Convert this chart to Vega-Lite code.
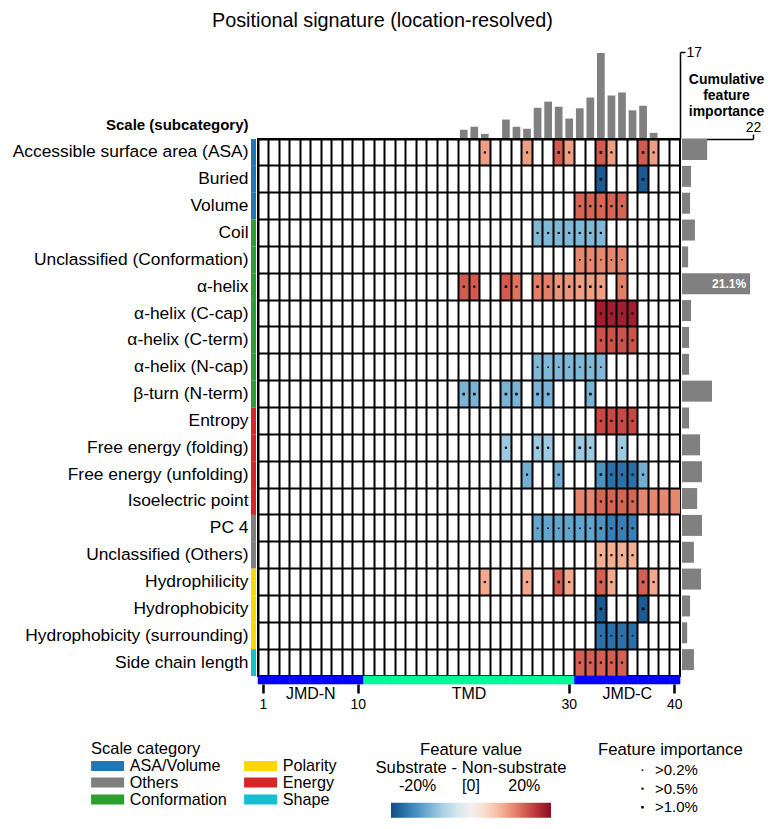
{
  "$schema": "https://vega.github.io/schema/vega-lite/v6.json",
  "padding": {"left": 12, "top": 11, "right": 5, "bottom": 5},
  "title": {"text": "Positional signature (location-resolved)", "fontSize": 19.8, "fontWeight": "normal", "anchor": "middle", "frame": "bounds", "offset": 14, "dx": -5.5},
  "config": {
    "font": "Liberation Sans",
    "view": {"stroke": null},
    "axis": {"labelColor": "black", "titleColor": "black", "domainColor": "black", "tickColor": "black"},
    "legend": {"labelColor": "black", "titleColor": "black", "padding": 0, "titleFontWeight": "normal"},
    "title": {"color": "black"}
  },
  "datasets": {
    "scales": [
      {"scale": "Accessible surface area (ASA)", "category": "ASA/Volume", "importance": 7.8},
      {"scale": "Buried", "category": "ASA/Volume", "importance": 2.8},
      {"scale": "Volume", "category": "ASA/Volume", "importance": 2.5},
      {"scale": "Coil", "category": "Conformation", "importance": 4.0},
      {"scale": "Unclassified (Conformation)", "category": "Conformation", "importance": 1.9},
      {"scale": "α-helix", "category": "Conformation", "importance": 21.1},
      {"scale": "α-helix (C-cap)", "category": "Conformation", "importance": 2.8},
      {"scale": "α-helix (C-term)", "category": "Conformation", "importance": 2.2},
      {"scale": "α-helix (N-cap)", "category": "Conformation", "importance": 2.2},
      {"scale": "β-turn (N-term)", "category": "Conformation", "importance": 9.3},
      {"scale": "Entropy", "category": "Energy", "importance": 2.2},
      {"scale": "Free energy (folding)", "category": "Energy", "importance": 5.6},
      {"scale": "Free energy (unfolding)", "category": "Energy", "importance": 6.2},
      {"scale": "Isoelectric point", "category": "Energy", "importance": 4.7},
      {"scale": "PC 4", "category": "Others", "importance": 6.2},
      {"scale": "Unclassified (Others)", "category": "Others", "importance": 3.7},
      {"scale": "Hydrophilicity", "category": "Polarity", "importance": 5.9},
      {"scale": "Hydrophobicity", "category": "Polarity", "importance": 2.5},
      {"scale": "Hydrophobicity (surrounding)", "category": "Polarity", "importance": 1.6},
      {"scale": "Side chain length", "category": "Shape", "importance": 3.7}
    ],
    "positions": [
      {"pos": 1, "region": "JMD-N", "importance": 0}, {"pos": 2, "region": "JMD-N", "importance": 0},
      {"pos": 3, "region": "JMD-N", "importance": 0}, {"pos": 4, "region": "JMD-N", "importance": 0},
      {"pos": 5, "region": "JMD-N", "importance": 0}, {"pos": 6, "region": "JMD-N", "importance": 0},
      {"pos": 7, "region": "JMD-N", "importance": 0}, {"pos": 8, "region": "JMD-N", "importance": 0},
      {"pos": 9, "region": "JMD-N", "importance": 0}, {"pos": 10, "region": "JMD-N", "importance": 0},
      {"pos": 11, "region": "TMD", "importance": 0}, {"pos": 12, "region": "TMD", "importance": 0},
      {"pos": 13, "region": "TMD", "importance": 0}, {"pos": 14, "region": "TMD", "importance": 0},
      {"pos": 15, "region": "TMD", "importance": 0}, {"pos": 16, "region": "TMD", "importance": 0},
      {"pos": 17, "region": "TMD", "importance": 0}, {"pos": 18, "region": "TMD", "importance": 0},
      {"pos": 19, "region": "TMD", "importance": 0}, {"pos": 20, "region": "TMD", "importance": 1.8},
      {"pos": 21, "region": "TMD", "importance": 2.4}, {"pos": 22, "region": "TMD", "importance": 1.0},
      {"pos": 23, "region": "TMD", "importance": 0}, {"pos": 24, "region": "TMD", "importance": 3.8},
      {"pos": 25, "region": "TMD", "importance": 2.4}, {"pos": 26, "region": "TMD", "importance": 2.0},
      {"pos": 27, "region": "TMD", "importance": 6.1}, {"pos": 28, "region": "TMD", "importance": 7.3},
      {"pos": 29, "region": "TMD", "importance": 6.3}, {"pos": 30, "region": "TMD", "importance": 4.0},
      {"pos": 31, "region": "JMD-C", "importance": 6.0}, {"pos": 32, "region": "JMD-C", "importance": 8.1},
      {"pos": 33, "region": "JMD-C", "importance": 16.8}, {"pos": 34, "region": "JMD-C", "importance": 8.5},
      {"pos": 35, "region": "JMD-C", "importance": 9.1}, {"pos": 36, "region": "JMD-C", "importance": 5.6},
      {"pos": 37, "region": "JMD-C", "importance": 6.5}, {"pos": 38, "region": "JMD-C", "importance": 1.2},
      {"pos": 39, "region": "JMD-C", "importance": 0}, {"pos": 40, "region": "JMD-C", "importance": 0}
    ],
    "cells": [
      {"scale": "Accessible surface area (ASA)", "pos": 22, "value": 13.7, "importance": ">0.5%"},
      {"scale": "Accessible surface area (ASA)", "pos": 26, "value": 13.7, "importance": ">0.5%"},
      {"scale": "Accessible surface area (ASA)", "pos": 29, "value": 20.4, "importance": ">1.0%"},
      {"scale": "Accessible surface area (ASA)", "pos": 30, "value": 13.7, "importance": ">0.5%"},
      {"scale": "Accessible surface area (ASA)", "pos": 33, "value": 20.4, "importance": ">1.0%"},
      {"scale": "Accessible surface area (ASA)", "pos": 34, "value": 13.7, "importance": ">0.5%"},
      {"scale": "Accessible surface area (ASA)", "pos": 37, "value": 20.4, "importance": ">1.0%"},
      {"scale": "Accessible surface area (ASA)", "pos": 38, "value": 13.7, "importance": ">0.5%"},
      {"scale": "Buried", "pos": 33, "value": -28, "importance": ">1.0%"},
      {"scale": "Buried", "pos": 37, "value": -28, "importance": ">1.0%"},
      {"scale": "Volume", "pos": 31, "value": 19.5, "importance": ">0.5%"},
      {"scale": "Volume", "pos": 32, "value": 19.5, "importance": ">0.5%"},
      {"scale": "Volume", "pos": 33, "value": 19.5, "importance": ">0.5%"},
      {"scale": "Volume", "pos": 34, "value": 19.5, "importance": ">0.5%"},
      {"scale": "Volume", "pos": 35, "value": 19.5, "importance": ">0.5%"},
      {"scale": "Coil", "pos": 27, "value": -14.7, "importance": ">0.5%"},
      {"scale": "Coil", "pos": 28, "value": -14.7, "importance": ">0.5%"},
      {"scale": "Coil", "pos": 29, "value": -14.7, "importance": ">0.5%"},
      {"scale": "Coil", "pos": 30, "value": -14.7, "importance": ">0.5%"},
      {"scale": "Coil", "pos": 31, "value": -14.7, "importance": ">0.5%"},
      {"scale": "Coil", "pos": 32, "value": -14.7, "importance": ">0.5%"},
      {"scale": "Coil", "pos": 33, "value": -14.7, "importance": ">0.5%"},
      {"scale": "Unclassified (Conformation)", "pos": 31, "value": 16, "importance": ">0.2%"},
      {"scale": "Unclassified (Conformation)", "pos": 32, "value": 16, "importance": ">0.2%"},
      {"scale": "Unclassified (Conformation)", "pos": 33, "value": 16, "importance": ">0.2%"},
      {"scale": "Unclassified (Conformation)", "pos": 34, "value": 16, "importance": ">0.2%"},
      {"scale": "Unclassified (Conformation)", "pos": 35, "value": 16, "importance": ">0.2%"},
      {"scale": "α-helix", "pos": 20, "value": 20.5, "importance": ">0.5%"},
      {"scale": "α-helix", "pos": 21, "value": 20.5, "importance": ">0.5%"},
      {"scale": "α-helix", "pos": 24, "value": 20.5, "importance": ">1.0%"},
      {"scale": "α-helix", "pos": 25, "value": 18, "importance": ">0.5%"},
      {"scale": "α-helix", "pos": 27, "value": 17, "importance": ">1.0%"},
      {"scale": "α-helix", "pos": 28, "value": 17, "importance": ">1.0%"},
      {"scale": "α-helix", "pos": 29, "value": 14.5, "importance": ">1.0%"},
      {"scale": "α-helix", "pos": 30, "value": 14.5, "importance": ">1.0%"},
      {"scale": "α-helix", "pos": 31, "value": 13.5, "importance": ">1.0%"},
      {"scale": "α-helix", "pos": 32, "value": 13.5, "importance": ">1.0%"},
      {"scale": "α-helix", "pos": 33, "value": 13.5, "importance": ">1.0%"},
      {"scale": "α-helix", "pos": 35, "value": 17, "importance": ">0.5%"},
      {"scale": "α-helix (C-cap)", "pos": 33, "value": 27.5, "importance": ">0.5%"},
      {"scale": "α-helix (C-cap)", "pos": 34, "value": 27.5, "importance": ">0.5%"},
      {"scale": "α-helix (C-cap)", "pos": 35, "value": 27.5, "importance": ">0.5%"},
      {"scale": "α-helix (C-cap)", "pos": 36, "value": 27.5, "importance": ">0.5%"},
      {"scale": "α-helix (C-term)", "pos": 33, "value": 21.3, "importance": ">0.5%"},
      {"scale": "α-helix (C-term)", "pos": 34, "value": 21.3, "importance": ">0.5%"},
      {"scale": "α-helix (C-term)", "pos": 35, "value": 21.3, "importance": ">0.5%"},
      {"scale": "α-helix (C-term)", "pos": 36, "value": 21.3, "importance": ">0.5%"},
      {"scale": "α-helix (N-cap)", "pos": 27, "value": -14.7, "importance": ">0.2%"},
      {"scale": "α-helix (N-cap)", "pos": 28, "value": -14.7, "importance": ">0.2%"},
      {"scale": "α-helix (N-cap)", "pos": 29, "value": -14.7, "importance": ">0.2%"},
      {"scale": "α-helix (N-cap)", "pos": 30, "value": -14.7, "importance": ">0.2%"},
      {"scale": "α-helix (N-cap)", "pos": 31, "value": -14.7, "importance": ">0.2%"},
      {"scale": "α-helix (N-cap)", "pos": 32, "value": -14.7, "importance": ">0.2%"},
      {"scale": "α-helix (N-cap)", "pos": 33, "value": -14.7, "importance": ">0.2%"},
      {"scale": "β-turn (N-term)", "pos": 20, "value": -15.4, "importance": ">1.0%"},
      {"scale": "β-turn (N-term)", "pos": 21, "value": -15.4, "importance": ">1.0%"},
      {"scale": "β-turn (N-term)", "pos": 24, "value": -15.4, "importance": ">1.0%"},
      {"scale": "β-turn (N-term)", "pos": 25, "value": -15.4, "importance": ">1.0%"},
      {"scale": "β-turn (N-term)", "pos": 27, "value": -15.4, "importance": ">1.0%"},
      {"scale": "β-turn (N-term)", "pos": 28, "value": -15.4, "importance": ">1.0%"},
      {"scale": "β-turn (N-term)", "pos": 32, "value": -15.4, "importance": ">1.0%"},
      {"scale": "Entropy", "pos": 33, "value": 22.3, "importance": ">0.5%"},
      {"scale": "Entropy", "pos": 34, "value": 22.3, "importance": ">0.5%"},
      {"scale": "Entropy", "pos": 35, "value": 22.3, "importance": ">0.5%"},
      {"scale": "Entropy", "pos": 36, "value": 22.3, "importance": ">0.5%"},
      {"scale": "Free energy (folding)", "pos": 24, "value": -12, "importance": ">0.5%"},
      {"scale": "Free energy (folding)", "pos": 27, "value": -12, "importance": ">1.0%"},
      {"scale": "Free energy (folding)", "pos": 28, "value": -12, "importance": ">0.5%"},
      {"scale": "Free energy (folding)", "pos": 31, "value": -12, "importance": ">1.0%"},
      {"scale": "Free energy (folding)", "pos": 32, "value": -12, "importance": ">0.5%"},
      {"scale": "Free energy (folding)", "pos": 35, "value": -12, "importance": ">0.5%"},
      {"scale": "Free energy (unfolding)", "pos": 26, "value": -16, "importance": ">0.5%"},
      {"scale": "Free energy (unfolding)", "pos": 29, "value": -16, "importance": ">0.5%"},
      {"scale": "Free energy (unfolding)", "pos": 33, "value": -20.2, "importance": ">1.0%"},
      {"scale": "Free energy (unfolding)", "pos": 34, "value": -25, "importance": ">0.5%"},
      {"scale": "Free energy (unfolding)", "pos": 35, "value": -25, "importance": ">0.5%"},
      {"scale": "Free energy (unfolding)", "pos": 36, "value": -25, "importance": ">0.5%"},
      {"scale": "Free energy (unfolding)", "pos": 37, "value": -16, "importance": ">0.5%"},
      {"scale": "Isoelectric point", "pos": 31, "value": 16, "importance": null},
      {"scale": "Isoelectric point", "pos": 32, "value": 16, "importance": null},
      {"scale": "Isoelectric point", "pos": 33, "value": 19.5, "importance": ">0.5%"},
      {"scale": "Isoelectric point", "pos": 34, "value": 19.5, "importance": ">0.5%"},
      {"scale": "Isoelectric point", "pos": 35, "value": 19.5, "importance": ">0.5%"},
      {"scale": "Isoelectric point", "pos": 36, "value": 19.5, "importance": ">0.5%"},
      {"scale": "Isoelectric point", "pos": 37, "value": 16, "importance": null},
      {"scale": "Isoelectric point", "pos": 38, "value": 16, "importance": null},
      {"scale": "Isoelectric point", "pos": 39, "value": 16, "importance": null},
      {"scale": "Isoelectric point", "pos": 40, "value": 16, "importance": null},
      {"scale": "PC 4", "pos": 27, "value": -17.5, "importance": ">0.2%"},
      {"scale": "PC 4", "pos": 28, "value": -17.5, "importance": ">0.2%"},
      {"scale": "PC 4", "pos": 29, "value": -17.5, "importance": ">0.2%"},
      {"scale": "PC 4", "pos": 30, "value": -17.5, "importance": ">0.2%"},
      {"scale": "PC 4", "pos": 31, "value": -17.5, "importance": ">0.2%"},
      {"scale": "PC 4", "pos": 32, "value": -17.5, "importance": ">0.2%"},
      {"scale": "PC 4", "pos": 33, "value": -20, "importance": ">1.0%"},
      {"scale": "PC 4", "pos": 34, "value": -23, "importance": ">0.5%"},
      {"scale": "PC 4", "pos": 35, "value": -23, "importance": ">0.5%"},
      {"scale": "PC 4", "pos": 36, "value": -23, "importance": ">0.5%"},
      {"scale": "Unclassified (Others)", "pos": 33, "value": 12, "importance": ">0.5%"},
      {"scale": "Unclassified (Others)", "pos": 34, "value": 12, "importance": ">0.5%"},
      {"scale": "Unclassified (Others)", "pos": 35, "value": 12, "importance": ">0.5%"},
      {"scale": "Unclassified (Others)", "pos": 36, "value": 12, "importance": ">0.5%"},
      {"scale": "Hydrophilicity", "pos": 22, "value": 12.5, "importance": ">0.5%"},
      {"scale": "Hydrophilicity", "pos": 26, "value": 12.5, "importance": ">0.5%"},
      {"scale": "Hydrophilicity", "pos": 29, "value": 20, "importance": ">1.0%"},
      {"scale": "Hydrophilicity", "pos": 30, "value": 12.5, "importance": ">0.5%"},
      {"scale": "Hydrophilicity", "pos": 33, "value": 20, "importance": ">1.0%"},
      {"scale": "Hydrophilicity", "pos": 34, "value": 12.5, "importance": ">0.5%"},
      {"scale": "Hydrophilicity", "pos": 37, "value": 20, "importance": ">1.0%"},
      {"scale": "Hydrophilicity", "pos": 38, "value": 12.5, "importance": ">0.5%"},
      {"scale": "Hydrophobicity", "pos": 33, "value": -28, "importance": ">1.0%"},
      {"scale": "Hydrophobicity", "pos": 37, "value": -28, "importance": ">1.0%"},
      {"scale": "Hydrophobicity (surrounding)", "pos": 33, "value": -25, "importance": ">0.2%"},
      {"scale": "Hydrophobicity (surrounding)", "pos": 34, "value": -25, "importance": ">0.2%"},
      {"scale": "Hydrophobicity (surrounding)", "pos": 35, "value": -25, "importance": ">0.2%"},
      {"scale": "Hydrophobicity (surrounding)", "pos": 36, "value": -25, "importance": ">0.2%"},
      {"scale": "Side chain length", "pos": 31, "value": 20, "importance": ">0.5%"},
      {"scale": "Side chain length", "pos": 32, "value": 20, "importance": ">0.5%"},
      {"scale": "Side chain length", "pos": 33, "value": 20, "importance": ">0.5%"},
      {"scale": "Side chain length", "pos": 34, "value": 20, "importance": ">0.5%"},
      {"scale": "Side chain length", "pos": 35, "value": 20, "importance": ">0.5%"}
    ]
  },
  "columns": 3,
  "bounds": "flush",
  "align": "each",
  "spacing": {"row": 0, "column": 2},
  "resolve": {"scale": {"color": "independent"}},
  "concat": [
    {
      "width": 5, "height": 87,
      "data": {"values": []},
      "mark": {"type": "rect", "opacity": 0}
    },
    {
      "width": 422, "height": 87,
      "data": {"name": "positions"},
      "mark": {"type": "bar", "color": "#808080"},
      "encoding": {
        "x": {"field": "pos", "type": "ordinal",
              "scale": {"domain": [1,2,3,4,5,6,7,8,9,10,11,12,13,14,15,16,17,18,19,20,21,22,23,24,25,26,27,28,29,30,31,32,33,34,35,36,37,38,39,40], "paddingInner": 0.27, "paddingOuter": 0.135},
              "axis": null},
        "y": {"field": "importance", "type": "quantitative",
              "scale": {"domain": [0, 17], "nice": false},
              "axis": {"orient": "right", "values": [17], "title": null, "grid": false, "domainWidth": 1.5, "tickSize": 5, "tickWidth": 1.5, "labelFontSize": 14, "labelPadding": 1, "labelFlush": false}}
      }
    },
    {
      "width": 71, "height": 87,
      "data": {"values": []},
      "mark": {"type": "rect", "opacity": 0}
    },
    {
      "width": 5, "height": 537,
      "data": {"name": "scales"},
      "mark": {"type": "rect"},
      "encoding": {
        "y": {"field": "scale", "type": "nominal",
              "scale": {"domain": ["Accessible surface area (ASA)", "Buried", "Volume", "Coil", "Unclassified (Conformation)", "α-helix", "α-helix (C-cap)", "α-helix (C-term)", "α-helix (N-cap)", "β-turn (N-term)", "Entropy", "Free energy (folding)", "Free energy (unfolding)", "Isoelectric point", "PC 4", "Unclassified (Others)", "Hydrophilicity", "Hydrophobicity", "Hydrophobicity (surrounding)", "Side chain length"], "paddingInner": 0, "paddingOuter": 0},
              "axis": {"orient": "left", "title": "Scale (subcategory)", "titleAngle": 0, "titleAlign": "right", "titleBaseline": "alphabetic", "titleX": -3, "titleY": -10, "titleFontSize": 15, "titleFontWeight": "bold", "labelFontSize": 17.4, "labelPadding": 3, "labelLimit": 400, "ticks": false, "domain": false, "grid": false}},
        "color": {"field": "category", "type": "nominal",
                  "scale": {"domain": ["ASA/Volume", "Others", "Conformation", "Polarity", "Energy", "Shape"], "range": ["#1f77b4", "#7f7f7f", "#2ca02c", "#ffd700", "#d62728", "#17becf"]},
                  "legend": {"orient": "none", "legendX": -160, "legendY": 602, "title": "Scale category", "titleFontSize": 16.5, "titlePadding": 0, "labelFontSize": 16.2, "columns": 2, "columnPadding": 17, "rowPadding": 0, "symbolType": "M-3.3,-1H3.3V1H-3.3Z", "symbolSize": 100, "symbolStrokeWidth": 0, "symbolOffset": 8.5, "labelOffset": 14}}
      }
    },
    {
      "width": 422, "height": 537,
      "view": {"stroke": "black", "strokeWidth": 2},
      "data": {"name": "cells"},
      "encoding": {
        "x": {"field": "pos", "type": "ordinal",
              "scale": {"domain": [1,2,3,4,5,6,7,8,9,10,11,12,13,14,15,16,17,18,19,20,21,22,23,24,25,26,27,28,29,30,31,32,33,34,35,36,37,38,39,40], "paddingInner": 0, "paddingOuter": 0},
              "axis": {"orient": "top", "title": null, "labels": false, "ticks": false, "domain": false, "grid": true, "gridColor": "black", "gridWidth": 2, "gridOpacity": 1, "bandPosition": 0, "zindex": 1}},
        "y": {"field": "scale", "type": "nominal",
              "scale": {"domain": ["Accessible surface area (ASA)", "Buried", "Volume", "Coil", "Unclassified (Conformation)", "α-helix", "α-helix (C-cap)", "α-helix (C-term)", "α-helix (N-cap)", "β-turn (N-term)", "Entropy", "Free energy (folding)", "Free energy (unfolding)", "Isoelectric point", "PC 4", "Unclassified (Others)", "Hydrophilicity", "Hydrophobicity", "Hydrophobicity (surrounding)", "Side chain length"], "paddingInner": 0, "paddingOuter": 0},
              "axis": {"orient": "left", "title": null, "labels": false, "ticks": false, "domain": false, "grid": true, "gridColor": "black", "gridWidth": 2, "gridOpacity": 1, "bandPosition": 0, "zindex": 1}}
      },
      "layer": [
        {
          "mark": {"type": "rect"},
          "encoding": {
            "color": {"field": "value", "type": "quantitative",
                      "scale": {"scheme": "redblue", "reverse": true, "domain": [-30, 30]},
                      "legend": {"orient": "none", "legendX": 117, "legendY": 603, "direction": "horizontal", "gradientLength": 160, "gradientThickness": 15, "gradientStrokeWidth": 0, "title": ["Feature value", "Substrate - Non-substrate"], "titleFontSize": 16.7, "titleLimit": 400, "titleAnchor": "middle", "titleAlign": "center", "titleLineHeight": 18, "titlePadding": 26, "values": [-20, 0, 20], "labelExpr": "datum.value == 0 ? '[0]' : datum.value + '%'", "labelFontSize": 16, "labelOffset": -40, "labelOverlap": false}}
          }
        },
        {
          "transform": [{"filter": "datum.importance != null"}],
          "mark": {"type": "point", "shape": "square", "filled": true, "color": "black", "opacity": 1},
          "encoding": {
            "size": {"field": "importance", "type": "ordinal",
                     "scale": {"domain": [">0.2%", ">0.5%", ">1.0%"], "range": [2.5, 6.5, 22]},
                     "legend": {"orient": "none", "legendX": 347, "legendY": 690, "title": "Feature importance", "titleFontSize": 16.7, "titleAnchor": "start", "titlePadding": 4, "labelFontSize": 15, "symbolOffset": 37, "labelOffset": 5, "rowPadding": 2.5, "symbolType": "square", "symbolFillColor": "black", "symbolStrokeWidth": 0}}
          }
        }
      ]
    },
    {
      "width": 71, "height": 537,
      "data": {"name": "scales"},
      "encoding": {
        "y": {"field": "scale", "type": "nominal",
              "scale": {"domain": ["Accessible surface area (ASA)", "Buried", "Volume", "Coil", "Unclassified (Conformation)", "α-helix", "α-helix (C-cap)", "α-helix (C-term)", "α-helix (N-cap)", "β-turn (N-term)", "Entropy", "Free energy (folding)", "Free energy (unfolding)", "Isoelectric point", "PC 4", "Unclassified (Others)", "Hydrophilicity", "Hydrophobicity", "Hydrophobicity (surrounding)", "Side chain length"], "paddingInner": 0.218, "paddingOuter": 0.109, "align": 0},
              "axis": null},
        "x": {"field": "importance", "type": "quantitative",
              "scale": {"domain": [0, 22], "nice": false},
              "axis": {"orient": "top", "values": [22], "grid": false, "domainWidth": 1.5, "tickSize": 5, "tickWidth": 1.5, "labelFontSize": 14, "labelPadding": 0, "labelFlush": false, "title": ["Cumulative", "feature", "importance"], "titleFontSize": 14, "titleFontWeight": "bold", "titleLineHeight": 16, "titlePadding": 2, "titleX": 44, "titleAlign": "center"}}
      },
      "layer": [
        {"mark": {"type": "bar", "color": "#808080"}},
        {
          "transform": [
            {"filter": "datum.importance > 15"},
            {"calculate": "format(datum.importance, '.1f') + '%'", "as": "label"}
          ],
          "mark": {"type": "text", "align": "right", "baseline": "middle", "dx": -4, "color": "white", "fontWeight": "bold", "fontSize": 12},
          "encoding": {"text": {"field": "label"}}
        }
      ]
    },
    {
      "width": 5, "height": 8,
      "data": {"values": []},
      "mark": {"type": "rect", "opacity": 0}
    },
    {
      "width": 422, "height": 8,
      "data": {"name": "positions"},
      "layer": [
        {
          "mark": {"type": "rect", "strokeWidth": 0.6},
          "encoding": {
            "x": {"field": "pos", "type": "ordinal",
                  "scale": {"domain": [1,2,3,4,5,6,7,8,9,10,11,12,13,14,15,16,17,18,19,20,21,22,23,24,25,26,27,28,29,30,31,32,33,34,35,36,37,38,39,40], "paddingInner": 0, "paddingOuter": 0},
                  "axis": {"orient": "bottom", "values": [1, 10, 30, 40], "title": null, "domain": false, "grid": false, "tickSize": 9, "tickWidth": 2.5, "labelFontSize": 14, "labelPadding": 4, "labelAngle": 0}},
            "color": {"field": "region", "type": "nominal", "scale": {"domain": ["JMD-N", "TMD", "JMD-C"], "range": ["#0000ff", "#00fa9a", "#0000ff"]}, "legend": null},
            "stroke": {"field": "region", "type": "nominal", "scale": {"domain": ["JMD-N", "TMD", "JMD-C"], "range": ["#0000ff", "#00fa9a", "#0000ff"]}, "legend": null}
          }
        },
        {
          "transform": [
            {"aggregate": [{"op": "min", "field": "pos", "as": "first"}, {"op": "max", "field": "pos", "as": "last"}], "groupby": ["region"]},
            {"calculate": "(datum.first + datum.last) / 2", "as": "mid"}
          ],
          "mark": {"type": "text", "baseline": "alphabetic", "dy": 19, "fontSize": 16, "color": "black"},
          "encoding": {
            "x": {"field": "mid", "type": "quantitative", "scale": {"domain": [0.5, 40.5], "nice": false, "zero": false}, "axis": null},
            "text": {"field": "region"}
          }
        }
      ],
      "resolve": {"scale": {"x": "independent"}}
    },
    {
      "width": 71, "height": 8,
      "data": {"values": []},
      "mark": {"type": "rect", "opacity": 0}
    }
  ]
}
